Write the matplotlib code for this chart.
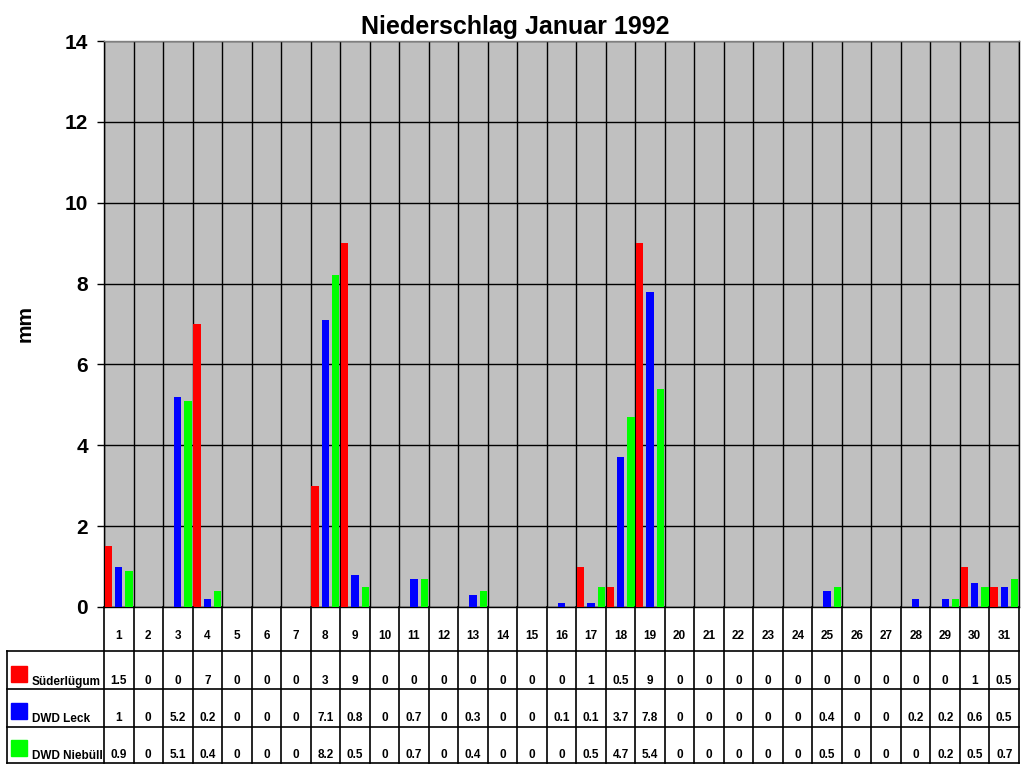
import numpy as np
import matplotlib
matplotlib.use("Agg")
import matplotlib.pyplot as plt
from matplotlib import font_manager
from matplotlib.transforms import blended_transform_factory

# ---------------- data ----------------
title = "Niederschlag Januar 1992"
ylabel = "mm"
days = list(range(1, 32))
series_names = ["Süderlügum", "DWD Leck", "DWD Niebüll"]
series_colors = ["#FF0000", "#0000FF", "#00FF00"]
suederluegum = [1.5, 0, 0, 7, 0, 0, 0, 3, 9, 0, 0, 0, 0, 0, 0, 0, 1, 0.5, 9, 0,
                0, 0, 0, 0, 0, 0, 0, 0, 0, 1, 0.5]
dwd_leck = [1, 0, 5.2, 0.2, 0, 0, 0, 7.1, 0.8, 0, 0.7, 0, 0.3, 0, 0, 0.1, 0.1, 3.7, 7.8, 0,
            0, 0, 0, 0, 0.4, 0, 0, 0.2, 0.2, 0.6, 0.5]
dwd_niebuell = [0.9, 0, 5.1, 0.4, 0, 0, 0, 8.2, 0.5, 0, 0.7, 0, 0.4, 0, 0, 0, 0.5, 4.7, 5.4, 0,
                0, 0, 0, 0, 0.5, 0, 0, 0, 0.2, 0.5, 0.7]
series = [suederluegum, dwd_leck, dwd_niebuell]
yticks = [0, 2, 4, 6, 8, 10, 12, 14]

# ---------------- figure ----------------
W, H = 1024, 768
fig = plt.figure(figsize=(W / 100, H / 100), dpi=100)
fig.patch.set_facecolor("white")
FONT = "Liberation Sans"
installed = {f.name for f in font_manager.fontManager.ttflist}
SMALL = "Liberation Sans Narrow" if "Liberation Sans Narrow" in installed else FONT
small_size = 10 if SMALL != FONT else 8.5

L, R, T, B = 104, 1019, 41, 607
ax = fig.add_axes([L / W, (H - B) / H, (R - L) / W, (B - T) / H])
ax.set_facecolor("#C0C0C0")

offsets = [-0.35, 0.0, 0.35]
x = np.array(days, dtype=float)
for vals, col, off in zip(series, series_colors, offsets):
    ax.bar(x + off, vals, width=0.25, color=col, zorder=3, linewidth=0)

ax.set_xlim(0.5, 31.5)
ax.set_ylim(0, 14)
ax.set_yticks(yticks)
ax.set_yticklabels([str(t) for t in yticks], fontsize=15, fontweight="bold", family=FONT)
ax.set_xticks([])
ax.set_xticks(np.arange(0.5, 32, 1.0), minor=True)
ax.tick_params(axis="x", which="both", length=0, labelbottom=False)
ax.tick_params(axis="y", direction="out", length=5, width=1, color="black", pad=6.5)
ax.grid(axis="y", which="major", color="black", linewidth=1, zorder=1)
ax.grid(axis="x", which="minor", color="black", linewidth=1, zorder=1)
ax.set_axisbelow(True)
for s in ["left", "bottom", "right"]:
    ax.spines[s].set_color("black")
    ax.spines[s].set_linewidth(1)
ax.spines["top"].set_color("#808080")
ax.spines["top"].set_linewidth(1)

fig.text(25 / W, 1 - 323 / H, ylabel, rotation=90, ha="center", va="center",
         fontsize=15, fontweight="bold", family=FONT)
fig.text(515 / W, 1 - 27 / H, title, ha="center", va="center",
         fontsize=18, fontweight="bold", family=FONT)

# ---------------- table overlay ----------------
ov = fig.add_axes([0, 0, 1, 1], facecolor="none")
ov.set_xlim(0, W)
ov.set_ylim(H, 0)
ov.axis("off")
tr = blended_transform_factory(ax.transData, ov.transData)

y_head, y_r1, y_r2, y_r3, y_end = 607, 651, 689, 727, 763
tl = 7
lw = 1.2
for yy in [y_r1, y_r2, y_r3, y_end]:
    ov.plot([tl, R], [yy, yy], color="black", lw=lw, clip_on=False)
ov.plot([tl, tl], [y_r1, y_end], color="black", lw=lw, clip_on=False)
for b in np.arange(0.5, 32, 1.0):
    ov.plot([b, b], [y_head, y_end], color="black", lw=lw, clip_on=False, transform=tr)

for d in days:
    ov.text(d, 636, str(d), transform=tr, ha="center", va="center",
            fontsize=small_size, fontweight="bold", family=SMALL)

row_text_y = [681, 718, 755]
row_sq_top = [666, 703, 740]
for vals, name, col, ty, sq in zip(series, series_names, series_colors, row_text_y, row_sq_top):
    ov.add_patch(plt.Rectangle((11, sq), 16, 16, color=col, clip_on=False))
    ov.text(32, ty + 1, name, ha="left", va="center", fontsize=small_size,
            fontweight="bold", family=SMALL)
    for d, v in zip(days, vals):
        ov.text(d, ty, f"{v:g}", transform=tr, ha="center", va="center",
                fontsize=small_size, fontweight="bold", family=SMALL)

fig.savefig("out.png", dpi=100)
